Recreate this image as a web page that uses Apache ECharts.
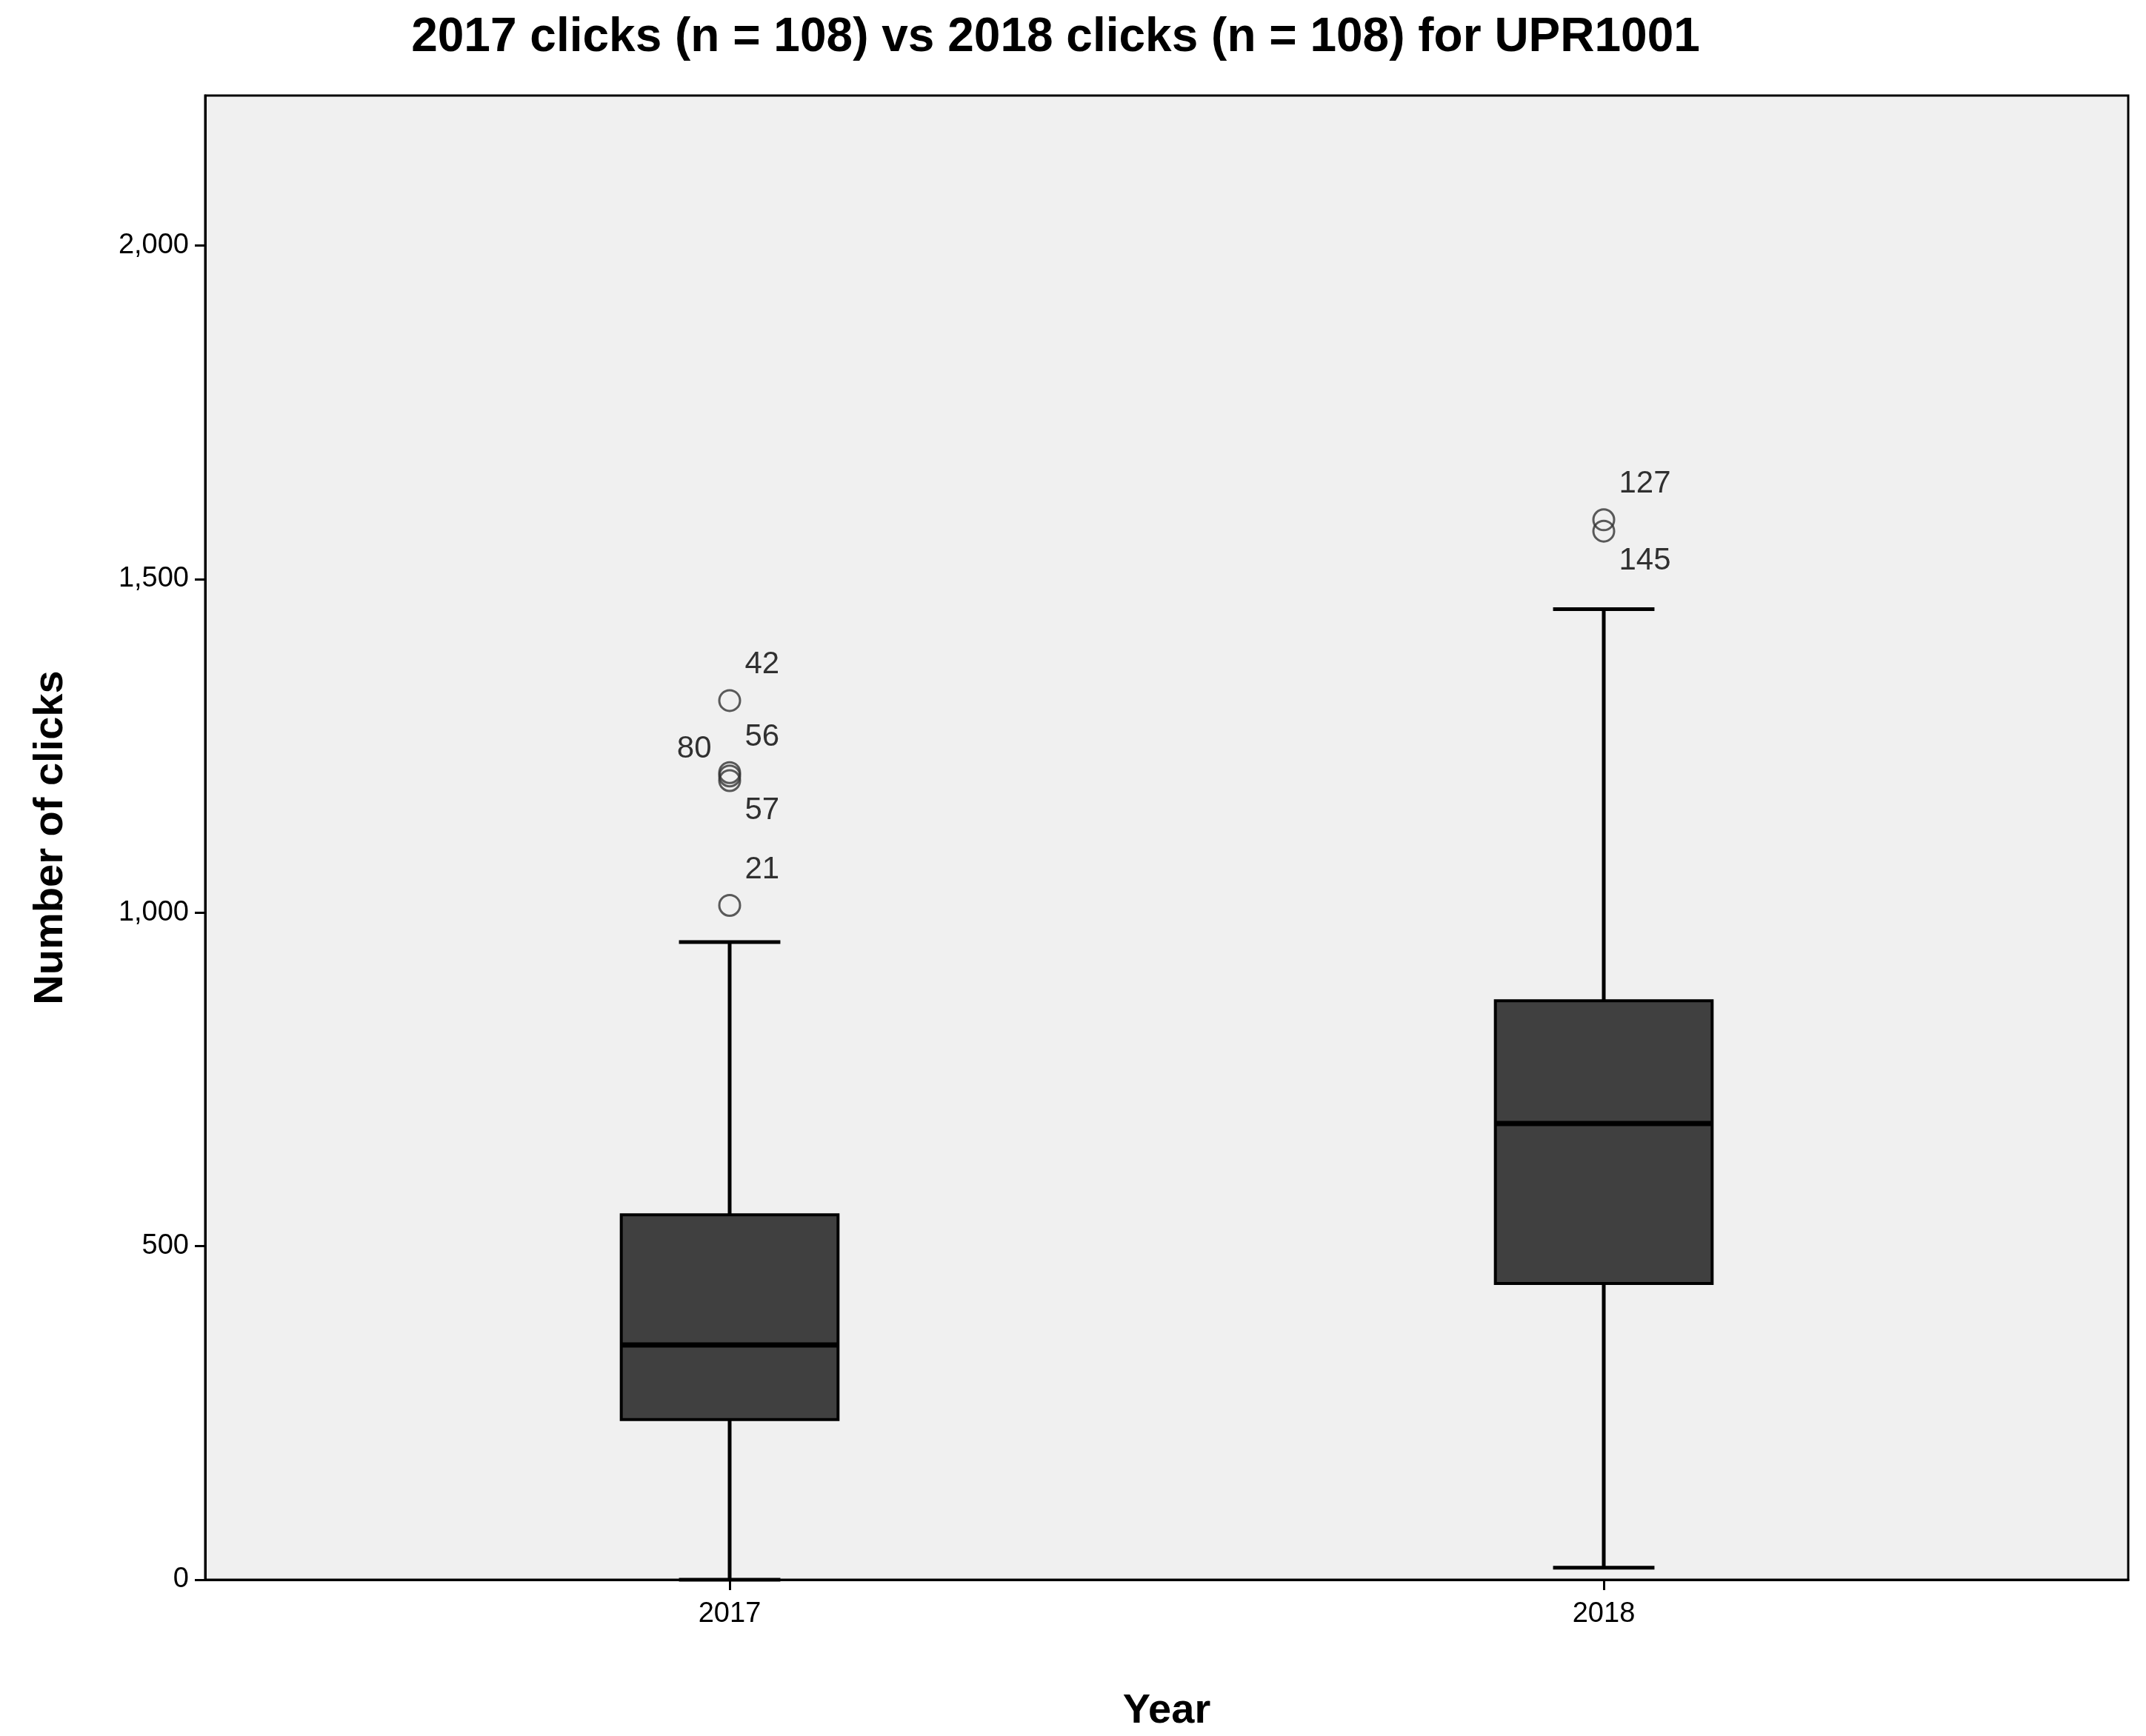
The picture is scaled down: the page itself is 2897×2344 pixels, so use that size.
<!DOCTYPE html>
<html>
<head>
<meta charset="utf-8">
<script src="https://cdn.jsdelivr.net/npm/echarts@6/dist/echarts.min.js"></script>
<style>html,body{margin:0;background:#fff}#main{width:2897px;height:2344px}</style>
</head>
<body>
<div id="main"></div>
<script>
var years = [2017, 2018];
// [low whisker, Q1, median, Q3, high whisker]
var boxStats = [
    [0, 240, 352, 547, 956],
    [18, 444, 684, 868, 1455]
];
// [year, value, case label, label position]
var outliers = [
    [2017, 1318, '42', 'rt'],
    [2017, 1210, '56', 'rt'],
    [2017, 1205, '80', 'l'],
    [2017, 1198, '57', 'rb'],
    [2017, 1011, '21', 'rt'],
    [2018, 1589, '127', 'rt'],
    [2018, 1572, '145', 'rb']
];
var yTicks = [0, 500, 1000, 1500, 2000];

var myChart = echarts.init(document.getElementById('main'));
var boxHalf = 0.124, capHalf = 0.058;

function labelPos(p) {
    if (p == 'l') return { position: 'left', offset: [-4, -36] };
    if (p == 'rb') return { position: 'right', offset: [0, 40] };
    return { position: 'right', offset: [0, -48] };
}

myChart.setOption({
    backgroundColor: '#fff',
    title: {
        text: '2017 clicks (n = 108) vs 2018 clicks (n = 108) for UPR1001',
        left: 1420, top: 14, textAlign: 'center',
        textStyle: { fontFamily: 'Liberation Sans', fontSize: 64, fontWeight: 'bold', color: '#000' }
    },
    grid: { left: 277, top: 129, width: 2596, height: 2009, show: true, backgroundColor: '#f0f0f0', borderColor: '#000', borderWidth: 3 },
    xAxis: {
        type: 'value', min: 2016.4, max: 2018.6, interval: 0.2,
        name: 'Year', nameLocation: 'middle', nameGap: 150,
        nameTextStyle: { fontFamily: 'Liberation Sans', fontSize: 56, fontWeight: 'bold', color: '#000' },
        axisLine: { lineStyle: { color: '#000', width: 3 } },
        axisTick: { show: true, length: 14, lineStyle: { color: '#000', width: 3 }, customValues: years },
        axisLabel: { fontFamily: 'Liberation Sans', fontSize: 38, color: '#000', margin: 28, customValues: years, formatter: function (v) { return String(v); } },
        splitLine: { show: false }
    },
    yAxis: {
        type: 'value', min: 0, max: 2225, interval: 500,
        name: 'Number of clicks', nameLocation: 'middle', nameGap: 180,
        nameTextStyle: { fontFamily: 'Liberation Sans', fontSize: 56, fontWeight: 'bold', color: '#000' },
        axisLine: { show: true, lineStyle: { color: '#000', width: 3 } },
        axisTick: { show: true, length: 14, lineStyle: { color: '#000', width: 3 }, customValues: yTicks },
        axisLabel: { fontFamily: 'Liberation Sans', fontSize: 38, color: '#000', margin: 22, customValues: yTicks },
        splitLine: { show: false }
    },
    series: [{
        type: 'custom',
        data: years.map(function (y, i) { return [y].concat(boxStats[i]); }),
        renderItem: function (params, api) {
            var x = api.value(0);
            var lo = api.coord([x, api.value(1)]), q1 = api.coord([x, api.value(2)]),
                md = api.coord([x, api.value(3)]), q3 = api.coord([x, api.value(4)]),
                hi = api.coord([x, api.value(5)]);
            var bl = api.coord([x - boxHalf, 0])[0], br = api.coord([x + boxHalf, 0])[0];
            var cl = api.coord([x - capHalf, 0])[0], cr = api.coord([x + capHalf, 0])[0];
            var ls = { stroke: '#000', lineWidth: 5 };
            return {
                type: 'group', children: [
                    { type: 'line', shape: { x1: lo[0], y1: lo[1], x2: lo[0], y2: q1[1] }, style: ls },
                    { type: 'line', shape: { x1: hi[0], y1: hi[1], x2: hi[0], y2: q3[1] }, style: ls },
                    { type: 'line', shape: { x1: cl, y1: lo[1], x2: cr, y2: lo[1] }, style: ls },
                    { type: 'line', shape: { x1: cl, y1: hi[1], x2: cr, y2: hi[1] }, style: ls },
                    { type: 'rect', shape: { x: bl, y: q3[1], width: br - bl, height: q1[1] - q3[1] }, style: { fill: '#404040', stroke: '#000', lineWidth: 4 } },
                    { type: 'line', shape: { x1: bl, y1: md[1], x2: br, y2: md[1] }, style: { stroke: '#000', lineWidth: 7 } }
                ]
            };
        }
    }, {
        type: 'scatter',
        symbol: 'circle', symbolSize: 28,
        itemStyle: { color: 'rgba(0,0,0,0)', borderColor: '#333', borderWidth: 3 },
        data: outliers.map(function (o) {
            var lp = labelPos(o[3]);
            return {
                value: [o[0], o[1]],
                label: { show: true, formatter: o[2], position: lp.position, offset: lp.offset, fontFamily: 'Liberation Sans', fontSize: 42, color: '#000' }
            };
        })
    }]
});
</script>
</body>
</html>
